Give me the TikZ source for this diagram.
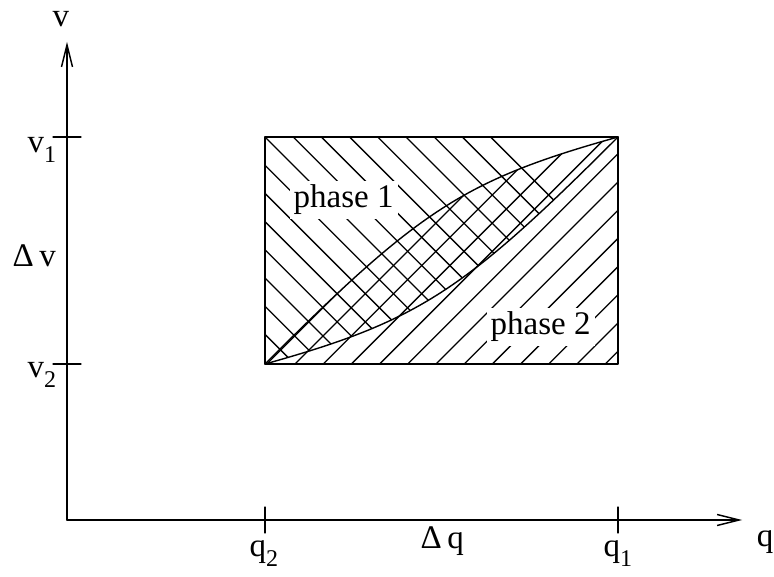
\documentclass[tikz,border=0pt]{standalone}
\usepackage{fontspec}
\setmainfont{Liberation Serif}
\usepackage{tikz}
\usetikzlibrary{arrows.meta}
\tikzset{
  >={Straight Barb[length=22pt,width=11pt]},
  every picture/.style={line width=1.4pt, line cap=round, line join=round},
  axislabel/.style={inner sep=0pt, font=\fontsize{33}{39}\selectfont},
  phaselabel/.style={fill=white, inner sep=4pt, font=\fontsize{33}{39}\selectfont},
  hatch/.style={line width=1.3pt},
  tick/.style={line width=1.3pt}
}
\newcommand{\lowidx}[1]{\raisebox{-10pt}{\fontsize{24}{24}\selectfont #1}}

\begin{document}
\begin{tikzpicture}[x=1pt,y=1pt]
  \def\qa{198}
  \def\qb{551}
  \def\va{156}
  \def\vb{383}
  \useasboundingbox (-67,-56) rectangle (707,520);

  \coordinate (O) at (0,0);
  \coordinate (qend) at (675,0);
  \coordinate (vend) at (0,478);
  \coordinate (SW) at (\qa,\va);
  \coordinate (NE) at (\qb,\vb);

  % phase 1 hatching: above the lower curve
  \begin{scope}
    \clip (SW) .. controls (352,199) and (397,229) .. (NE) -- (\qa,\vb) -- cycle;
    \foreach \k in {-13,...,8}
      \draw[hatch] ({581+28.2*\k-400},400) -- ({581+28.2*\k-140},140);
  \end{scope}

  % phase 2 hatching: below the upper curve
  \begin{scope}
    \clip (SW) .. controls (352,310) and (397,340) .. (NE) -- (\qb,\va) -- cycle;
    \foreach \k in {-1,...,12}
      \draw[hatch] ({72+28.2*\k+140},140) -- ({72+28.2*\k+400},400);
  \end{scope}

  \draw (SW) .. controls (352,310) and (397,340) .. (NE);
  \draw (SW) .. controls (352,199) and (397,229) .. (NE);
  \draw (SW) rectangle (NE);

  \node[phaselabel, anchor=base west] (ph1) at (222,312) {phase 1};
  \node[phaselabel, anchor=base west] (ph2) at (419,185) {phase 2};

  % axes
  \draw[->] (O) -- (qend);
  \draw[->] (O) -- (vend);
  \draw[tick] (\qa,-13) -- (\qa,13);
  \draw[tick] (\qb,-13) -- (\qb,13);
  \draw[tick] (-14,\va) -- (14,\va);
  \draw[tick] (-14,\vb) -- (14,\vb);

  \node[axislabel, anchor=base] (vlab) at (-6,493) {v};
  \node[axislabel, anchor=base] (qlab) at (698,-26) {q};
  \node[axislabel, anchor=base west] (v1) at (-40,367) {v\lowidx{1}};
  \node[axislabel, anchor=base west] (dv) at (-55,253) {Δ\,v};
  \node[axislabel, anchor=base west] (v2) at (-40,142) {v\lowidx{2}};
  \node[axislabel, anchor=base west] (q2) at (182,-36) {q\lowidx{2}};
  \node[axislabel, anchor=base west] (dq) at (353,-28) {Δ\,q};
  \node[axislabel, anchor=base west] (q1) at (536,-36) {q\lowidx{1}};
\end{tikzpicture}
\end{document}
